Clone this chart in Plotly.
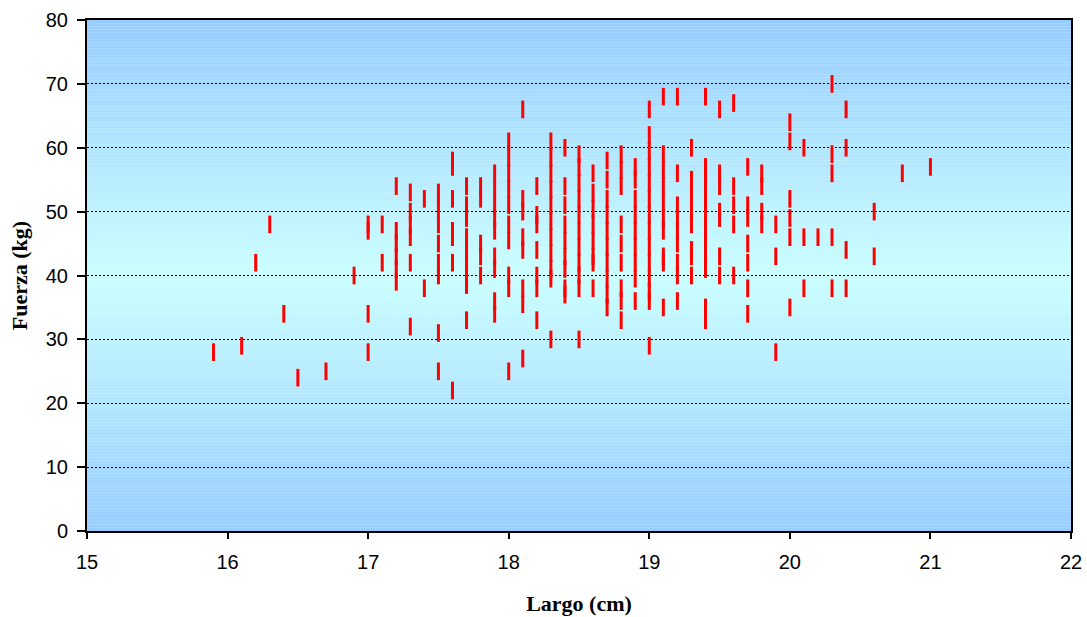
import plotly.graph_objects as go

# ---- Data ----
columnas_cm = [15.9, 16.1, 16.2, 16.3, 16.4, 16.5, 16.7, 16.9,
               17.0, 17.1, 17.2, 17.3, 17.4, 17.5, 17.6, 17.7, 17.8, 17.9,
               18.0, 18.1, 18.2, 18.3, 18.4, 18.5, 18.6, 18.7, 18.8, 18.9,
               19.0, 19.1, 19.2, 19.3, 19.4, 19.5, 19.6, 19.7, 19.8, 19.9,
               20.0, 20.1, 20.2, 20.3, 20.4, 20.6, 20.8, 21.0]

fuerzas_kg = [
    [28], [29], [42], [48], [34], [24], [25], [40],
    [48, 47, 34, 28],
    [48, 42],
    [54, 47, 45, 43, 41, 39],
    [53, 50, 48, 46, 42, 32],
    [52, 38],
    [53, 50.5, 48, 45, 42, 40, 31, 25],
    [58, 57, 52, 47, 46, 42, 22],
    [54, 51, 49, 46, 44, 42, 40, 38.5, 33],
    [54, 52, 45, 43, 40],
    [56, 53.5, 51, 49, 47, 43, 41, 36, 34],
    [61, 58.5, 56, 53.5, 51, 48, 45.5, 40, 38, 25],
    [66, 52, 50, 46, 44, 38, 35.5, 27],
    [54, 49.5, 48, 44, 40, 38, 33],
    [61, 58.5, 56, 53.5, 51, 48.5, 46, 43.5, 41, 39.5, 30],
    [60, 54, 51, 48, 45.5, 43, 41, 38, 37],
    [59, 57, 54.5, 52, 49.5, 47, 44.5, 42, 40, 38, 30],
    [56, 53, 50.5, 48, 45.5, 43, 42, 38],
    [58, 55, 52, 49.5, 47, 44.5, 42, 39.5, 37, 35],
    [59, 56.5, 54, 48, 45, 42, 38, 36, 33],
    [57, 55, 52, 49.5, 47, 44.5, 42, 39.5, 36],
    [66, 62, 59.5, 57, 54.5, 52, 49.5, 47, 44.5, 42, 39.5, 37.5, 36, 29],
    [68, 59, 56.5, 54, 51.5, 49, 47, 43, 42, 35],
    [68, 56, 51, 49, 47, 45, 42, 40, 36],
    [60, 55, 52.5, 50, 48, 44, 43, 40],
    [68, 57, 54.5, 52, 49.5, 47, 44.5, 42, 41, 35, 33],
    [66, 56, 54, 50, 49, 43, 40],
    [67, 54, 51, 48, 40],
    [57, 51, 49, 45, 42, 38, 34],
    [56, 54, 50, 48],
    [48, 43, 28],
    [64, 61, 52, 49, 46, 35],
    [60, 46, 38],
    [46],
    [70, 59, 56, 46, 38],
    [66, 60, 44, 38],
    [50, 43],
    [56],
    [57],
]

x_ticks = [15, 16, 17, 18, 19, 20, 21, 22]
y_ticks = [0, 10, 20, 30, 40, 50, 60, 70, 80]

largo = []
fuerza = []
for c, ys in zip(columnas_cm, fuerzas_kg):
    for v in ys:
        largo.append(c)
        fuerza.append(v)

fig = go.Figure()
fig.add_trace(go.Scatter(
    x=largo, y=fuerza, mode="markers",
    marker=dict(symbol="line-ns-open", size=12.6, color="#FF0000",
                line=dict(width=3, color="#FF0000")),
    showlegend=False, hoverinfo="x+y",
))

# vertical two-sided gradient background (blue - cyan - blue)
edge = (153, 204, 255)
mid = (204, 255, 255)
shapes = []
n = 160
for k in range(n):
    y0 = 80 * k / n
    y1 = 80 * (k + 1) / n
    t = abs((y0 + y1) / 2 - 40) / 40
    col = tuple(round(m + (e - m) * t) for m, e in zip(mid, edge))
    shapes.append(dict(type="rect", xref="paper", yref="y", x0=0, x1=1,
                       y0=y0, y1=y1, layer="below", line=dict(width=0),
                       fillcolor="rgb(%d,%d,%d)" % col))

tick_font = dict(family="Liberation Sans, Arial, sans-serif", size=20, color="black")
title_font = dict(family="Liberation Serif, Times New Roman, serif", size=22,
                  color="black", weight="bold")

fig.update_layout(
    width=1087, height=617,
    margin=dict(l=87, r=16, t=20, b=86),
    paper_bgcolor="white", plot_bgcolor="#CCFFFF",
    shapes=shapes,
    xaxis=dict(range=[15, 22], tickvals=x_ticks, ticks="outside", ticklen=6,
               tickwidth=1.5, tickcolor="black", showline=True, linewidth=2,
               linecolor="black", mirror=True, showgrid=False, zeroline=False,
               tickfont=tick_font, ticklabelstandoff=6, automargin=False,
               title=dict(text="Largo (cm)", font=title_font, standoff=24)),
    yaxis=dict(range=[0, 80], tickvals=y_ticks, ticks="outside", ticklen=8,
               tickwidth=1.5, tickcolor="black", showline=True, linewidth=2,
               linecolor="black", mirror=True, showgrid=True, gridcolor="black",
               gridwidth=1, griddash="2px,2px", zeroline=False,
               tickfont=tick_font, ticklabelstandoff=5, automargin=False,
               title=dict(text="Fuerza (kg)", font=title_font, standoff=12)),
)

fig.write_html("out.html")
